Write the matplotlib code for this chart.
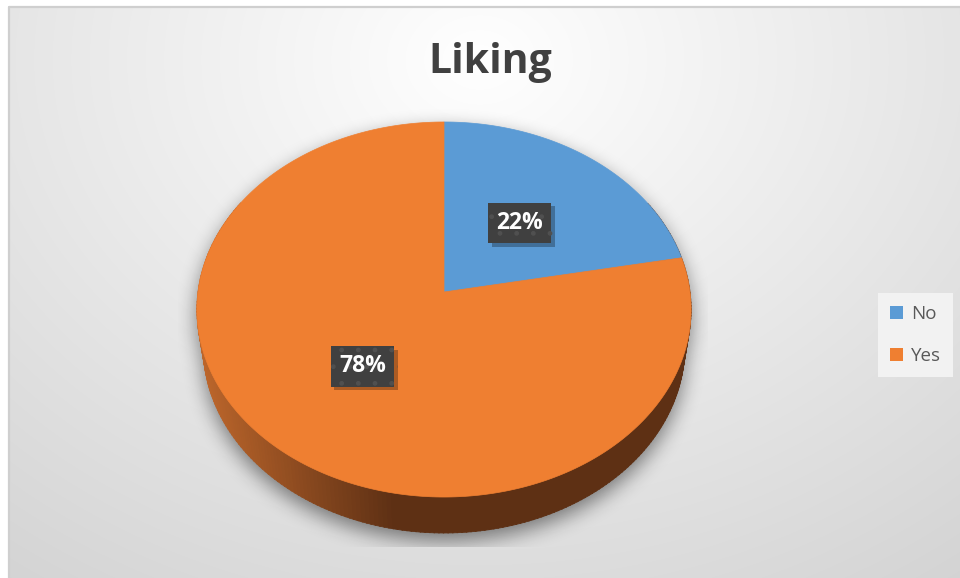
import numpy as np
import matplotlib
matplotlib.use("Agg")
import matplotlib.pyplot as plt
from matplotlib.path import Path
from matplotlib.patches import Polygon, Patch
import matplotlib.patheffects as pe

# data
title = "Liking"
labels = ["No", "Yes"]
values = [22, 78]
colors = ["#5b9bd5", "#ef7f31"]

W, H = 960, 578
plt.rcParams["font.family"] = ["Open Sans", "DejaVu Sans"]

# perspective pie geometry (pixels)
CX, CY = 444, 292
F, D = 1726.0, 7.016
SA, CA = 0.7556, 0.6551
DEPTH = 0.241


def project(theta, r, y=0.0):
    t = np.radians(theta)
    x = r * np.sin(t)
    z = r * np.cos(t)
    v = z * SA + y * CA
    w = D + z * CA - y * SA
    return CX + F * x / w, CY - F * v / w


def box_blur(a, k, axis):
    pad = [(0, 0), (0, 0)]
    pad[axis] = (k, k)
    b = np.pad(a, pad, mode="edge")
    c = np.cumsum(b, axis=axis)
    c = np.insert(c, 0, 0, axis=axis)
    n = a.shape[axis]
    hi = np.take(c, np.arange(2 * k + 1, 2 * k + 1 + n), axis=axis)
    lo = np.take(c, np.arange(0, n), axis=axis)
    return (hi - lo) / (2 * k + 1)


fig = plt.figure(figsize=(W / 100, H / 100), dpi=100)
ax = fig.add_axes([0, 0, 1, 1])
ax.set_xlim(0, W)
ax.set_ylim(H, 0)
ax.axis("off")

# background radial gradient
yy, xx = np.mgrid[0:H, 0:W] + 0.5
rr = np.sqrt(((xx - 480) / 650) ** 2 + ((yy - 60) / 520) ** 2)
bg = np.clip(255 - 35 * rr, 0, 255) / 255
bg[:, :8] = 1
bg[:6, :] = 1
ax.imshow(np.dstack([bg, bg, bg]), extent=(0, W, H, 0), zorder=0)
ax.plot([8.5, 8.5, W], [H, 6.5, 6.5], color="#cfcfcf", lw=1.6, zorder=1)

# pie silhouette for the shadow
th = np.linspace(0, 360, 361)
tx, ty = project(th, 1.0)
bx, by = project(th, 1.0, -DEPTH)
pts = np.column_stack([xx.ravel(), yy.ravel() - 8])
mask = np.zeros(xx.size, dtype=bool)
for px, py in [(tx, ty), (bx, by)]:
    mask |= Path(np.column_stack([px, py])).contains_points(pts)
front = (th >= 95) & (th <= 265)
side = np.column_stack([np.r_[tx[front], bx[front][::-1]], np.r_[ty[front], by[front][::-1]]])
mask |= Path(side).contains_points(pts)
m = mask.reshape(H, W).astype(float)
for _ in range(3):
    m = box_blur(m, 9, 0)
    m = box_blur(m, 9, 1)
alpha = 0.48 * m
alpha[:, :178] = 0
alpha[:, 708:] = 0
alpha[547:, :] = 0
shadow = np.zeros((H, W, 4))
shadow[..., 3] = alpha
ax.imshow(shadow, extent=(0, W, H, 0), zorder=2)

# side of the pie
light = np.array([0.74, 0.40, 0.17])
dark = np.array([0.37, 0.19, 0.08])
angles = np.arange(60, 300, 1.0)
order = np.argsort(-np.cos(np.radians(angles + 0.5)))
for i in order:
    a0, a1 = angles[i], angles[i] + 1.2
    x0, y0 = project(a0, 1.0)
    x1, y1 = project(a1, 1.0)
    x2, y2 = project(a1, 1.0, -DEPTH)
    x3, y3 = project(a0, 1.0, -DEPTH)
    t = np.clip((min(x0, x1) - 200) / 190, 0, 1)
    col = light * (1 - t) + dark * t
    ax.add_patch(Polygon([[x0, y0], [x1, y1], [x2, y2], [x3, y3]],
                         closed=True, fc=col, ec=col, lw=0.6, zorder=3))

# top face
start = 0.0
mids = []
for v, c in zip(values, colors):
    span = 360.0 * v / sum(values)
    arc = np.linspace(start, start + span, max(int(span * 2), 2))
    ax_, ay_ = project(arc, 1.0)
    poly = np.column_stack([np.r_[CX, ax_], np.r_[CY, ay_]])
    ax.add_patch(Polygon(poly, closed=True, fc=c, ec=c, lw=0.5, zorder=4))
    mids.append(start + span / 2)
    start += span

# data labels
for v, mid in zip(values, mids):
    lx, ly = project(mid, 0.5)
    txt = ax.text(lx, ly, f"{v}%", ha="center", va="center", fontsize=16.5,
                  fontweight="bold", color="white", zorder=6,
                  bbox=dict(boxstyle="square,pad=0.36", fc="#404040", ec="#505050",
                            lw=0, hatch="."))
    txt.get_bbox_patch().set_path_effects(
        [pe.withSimplePatchShadow(offset=(2.5, -2.5), shadow_rgbFace="black", alpha=0.28)])

# title
ax.text(490, 73, title, ha="center", va="baseline", fontsize=29.5,
        fontweight="bold", color="#404040", zorder=6)

# legend
handles = [Patch(fc=c, ec="none", label=l) for l, c in zip(labels, colors)]
leg = ax.legend(handles=handles, loc="center left", bbox_to_anchor=(878 / W, 1 - 335 / H),
                bbox_transform=fig.transFigure, frameon=True, fancybox=False,
                facecolor="#f2f2f2", edgecolor="none", framealpha=1,
                fontsize=13.5, handlelength=0.7, handleheight=0.7,
                handletextpad=0.4, labelspacing=1.25, borderpad=0.65,
                borderaxespad=0)
for t in leg.get_texts():
    t.set_color("#595959")

plt.savefig("out.png", dpi=100)
plt.close(fig)
print("Saved: out.png")
